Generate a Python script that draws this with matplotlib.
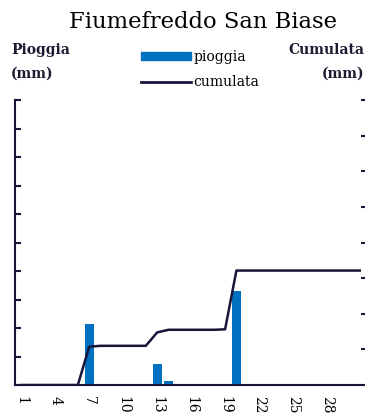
import matplotlib
matplotlib.use("Agg")
import matplotlib.pyplot as plt
from matplotlib.patches import Patch
from matplotlib.lines import Line2D

days = list(range(1, 32))
pioggia = [0, 0, 0, 0, 0, 0, 4.3, 0.1, 0, 0, 0, 0, 1.5, 0.3, 0, 0, 0, 0, 0.05, 6.6,
           0, 0, 0, 0, 0, 0, 0, 0, 0, 0, 0]
cumulata = [0, 0, 0, 0, 0, 0, 4.3, 4.4, 4.4, 4.4, 4.4, 4.4, 5.9, 6.2, 6.2, 6.2, 6.2, 6.2, 6.25, 12.85,
            12.85, 12.85, 12.85, 12.85, 12.85, 12.85, 12.85, 12.85, 12.85, 12.85, 12.85]
xtick_days = [1, 4, 7, 10, 13, 16, 19, 22, 25, 28]

serif = ["DejaVu Serif"]
bar_color = "#0070c0"
line_color = "#16163a"
text_color = "#1a1a30"

fig = plt.figure(figsize=(3.65, 4.16), dpi=100)
ax = fig.add_axes([15/365, 1-385/416, (361-15)/365, (385-100)/416])
ax2 = ax.twinx()

ax.bar(days, pioggia, width=0.8, color=bar_color, zorder=2)
ax2.plot(days, cumulata, color=line_color, lw=1.8, zorder=3)

ax.set_xlim(0.45, 31.0)
ax.set_ylim(0, 20)
ax2.set_ylim(0, 32)
ax.set_yticks(range(0, 21, 2))
ax2.set_yticks(range(0, 33, 4))
ax.set_yticklabels([])
ax2.set_yticklabels([])
ax.set_xticks(xtick_days)
ax.set_xticklabels([str(d) for d in xtick_days], rotation=270, family=serif, fontsize=10)
ax.tick_params(axis="x", length=0, pad=8)
ax.tick_params(axis="y", direction="in", length=4, width=1.5, color=line_color)
ax2.tick_params(axis="y", direction="out", length=4, width=1.5, color=line_color)

for s in ["top", "right"]:
    ax.spines[s].set_visible(False)
for s in ["top", "right", "left", "bottom"]:
    ax2.spines[s].set_visible(False)
ax.spines["left"].set_color(line_color)
ax.spines["left"].set_linewidth(1.5)
ax.spines["bottom"].set_color(line_color)
ax.spines["bottom"].set_linewidth(1.5)
ax.patch.set_visible(False)

fig.text(203/365, 1-22/416, "Fiumefreddo San Biase", ha="center", va="center", family=serif, fontsize=16.3)
fig.text(11/365, 1-50/416, "Pioggia", ha="left", va="center", family=serif, fontsize=10, fontweight="bold", color=text_color)
fig.text(11/365, 1-74/416, "(mm)", ha="left", va="center", family=serif, fontsize=10, fontweight="bold", color=text_color)
fig.text(364/365, 1-50/416, "Cumulata", ha="right", va="center", family=serif, fontsize=10, fontweight="bold", color=text_color)
fig.text(364/365, 1-74/416, "(mm)", ha="right", va="center", family=serif, fontsize=10, fontweight="bold", color=text_color)

handles = [Patch(color=bar_color), Line2D([], [], color=line_color, lw=2)]
fig.legend(handles, ["pioggia", "cumulata"], loc="upper left", bbox_to_anchor=(135/365, 1-44/416),
           frameon=False, prop={"family": serif, "size": 10}, handlelength=3.6, handleheight=0.5,
           handletextpad=0.2, labelspacing=0.85, borderaxespad=0)

fig.savefig("out.png", dpi=100)
